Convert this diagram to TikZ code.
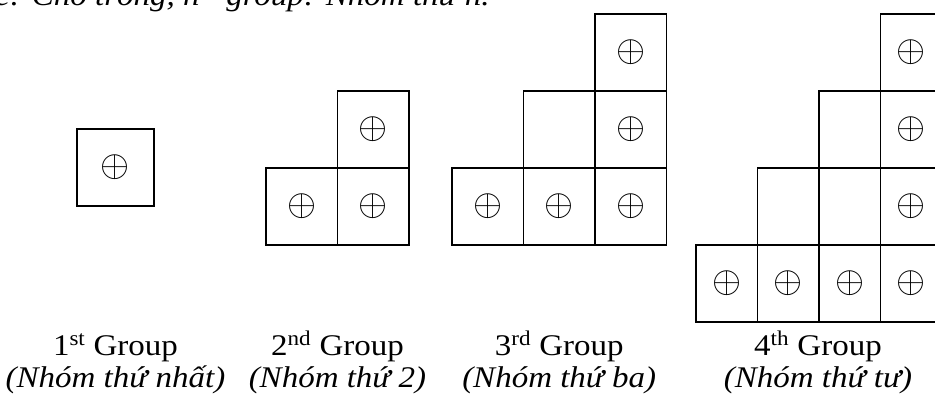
\documentclass[tikz,border=0pt]{standalone}
\usepackage{fontspec}
\setmainfont{Liberation Serif}[FakeStretch=1.1]
\usepackage{graphicx}
\usepackage{tikz}
\usetikzlibrary{positioning}
\newcommand{\cellmark}{\scalebox{1.5}{$\oplus$}}

\begin{document}
\begin{tikzpicture}[
  x=1pt,y=-1pt,
  cell/.style={draw,line width=1.6pt,inner sep=0pt,outer sep=0pt,minimum height=77pt,font=\fontsize{26}{30}\selectfont},
  wide/.style={cell,minimum width=77pt},
  mid/.style={cell,minimum width=71.5pt},
  slim/.style={cell,minimum width=61.5pt},
  lbl/.style={anchor=base,inner sep=0pt,font=\fontsize{30}{36}\selectfont},
  sub/.style={anchor=base,inner sep=0pt,font=\fontsize{30}{36}\selectfont\itshape}
]
\useasboundingbox (0,0) rectangle (935,398);
% caption line, cut off by the top edge
\node[anchor=base west,inner sep=0pt,font=\fontsize{30}{36}\selectfont\itshape] (note) at (-5,6) {e: Chỗ trống, n\textsuperscript{th} group: Nhóm thứ n.};
% 1st group
\node[wide] (a1) at (115.5,167.5) {\cellmark};
% 2nd group
\node[mid] (b1) at (301.75,206.5) {\cellmark};
\node[mid,right=0pt of b1] (b2) {\cellmark};
\node[mid,above=0pt of b2] (b3) {\cellmark};
% 3rd group
\node[mid] (c1) at (487.75,206.5) {\cellmark};
\node[mid,right=0pt of c1] (c2) {\cellmark};
\node[mid,right=0pt of c2] (c3) {\cellmark};
\node[mid,above=0pt of c2] (c4) {};
\node[mid,above=0pt of c3] (c5) {\cellmark};
\node[mid,above=0pt of c5] (c6) {\cellmark};
% 4th group
\node[slim] (d1) at (726.75,283.5) {\cellmark};
\node[slim,right=0pt of d1] (d2) {\cellmark};
\node[slim,right=0pt of d2] (d3) {\cellmark};
\node[slim,right=0pt of d3] (d4) {\cellmark};
\node[slim,above=0pt of d2] (d5) {};
\node[slim,above=0pt of d3] (d6) {};
\node[slim,above=0pt of d4] (d7) {\cellmark};
\node[slim,above=0pt of d6] (d8) {};
\node[slim,above=0pt of d7] (d9) {\cellmark};
\node[slim,above=0pt of d9] (d10) {\cellmark};
% labels
\node[lbl] (t1) at (115.5,355) {1\textsuperscript{st} Group};
\node[sub] (s1) at (115.5,387) {(Nhóm thứ nhất)};
\node[lbl] (t2) at (337.5,355) {2\textsuperscript{nd} Group};
\node[sub] (s2) at (337.5,387) {(Nhóm thứ 2)};
\node[lbl] (t3) at (559.25,355) {3\textsuperscript{rd} Group};
\node[sub] (s3) at (559.25,387) {(Nhóm thứ ba)};
\node[lbl] (t4) at (818,355) {4\textsuperscript{th} Group};
\node[sub] (s4) at (818,387) {(Nhóm thứ tư)};
\end{tikzpicture}
\end{document}
